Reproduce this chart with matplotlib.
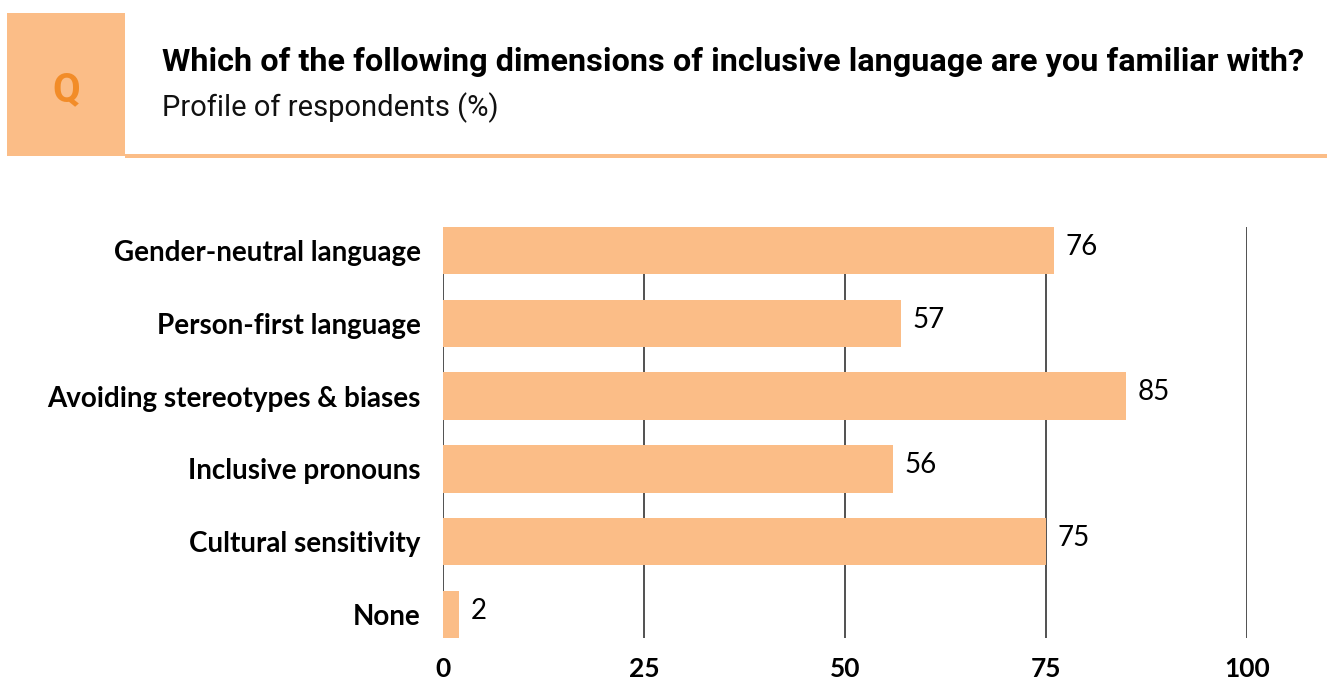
import matplotlib
matplotlib.use("Agg")
import matplotlib.pyplot as plt
from matplotlib.patches import Rectangle

# --- dane ---
categories = ['Gender-neutral language', 'Person-first language', 'Avoiding stereotypes & biases',
              'Inclusive pronouns', 'Cultural sensitivity', 'None']
values = [76, 57, 85, 56, 75, 2]
x_ticks = [0, 25, 50, 75, 100]

title = 'Which of the following dimensions of inclusive language are you familiar with?'
subtitle = 'Profile of respondents (%)'

BAR_COLOR = '#FBBD87'
Q_COLOR = '#F28C28'
LABEL_FONT = 'Lato'
HEAD_FONT = 'Roboto'
BAR_H = 0.65

W, H = 1333, 679
fig = plt.figure(figsize=(W / 100, H / 100), dpi=100)

# --- naglowek ---
fig.patches.append(Rectangle((7 / W, 1 - 156 / H), 118 / W, 143 / H, transform=fig.transFigure,
                             facecolor=BAR_COLOR, edgecolor='none'))
fig.patches.append(Rectangle((125 / W, 1 - 158 / H), 1202 / W, 4 / H, transform=fig.transFigure,
                             facecolor=BAR_COLOR, edgecolor='none'))
fig.text(66 / W, 1 - 90 / H, 'Q', color=Q_COLOR, fontsize=29, fontweight='bold', family=HEAD_FONT,
         ha='center', va='center')
fig.text(162 / W, 1 - 62 / H, title, fontsize=23.3, fontweight='bold', family=HEAD_FONT,
         ha='left', va='center', color='black')
fig.text(162 / W, 1 - 108 / H, subtitle, fontsize=21, fontweight='normal', family=HEAD_FONT,
         ha='left', va='center', color='#111111')

# --- wykres ---
ax = fig.add_axes([443 / W, 1 - 638 / H, (1247 - 443) / W, (638 - 227) / H])
pos = list(range(len(categories)))
ax.barh(pos, values, height=BAR_H, color=BAR_COLOR, zorder=3)
ax.set_ylim(len(categories) - 1 + BAR_H / 2, -BAR_H / 2)
ax.set_xlim(0, 100)
ax.set_xticks(x_ticks)
ax.set_xticklabels([str(t) for t in x_ticks], fontsize=19, fontweight='bold', family=LABEL_FONT)
ax.set_yticks(pos)
ax.set_yticklabels(categories, fontsize=20, fontweight='bold', family=LABEL_FONT)
ax.tick_params(axis='both', length=0)
ax.tick_params(axis='y', pad=16)
ax.tick_params(axis='x', pad=14)
for s in ax.spines.values():
    s.set_visible(False)
ax.xaxis.grid(True, color='#333333', linewidth=1.2, zorder=0)
ax.set_axisbelow(True)

for p, v in zip(pos, values):
    ax.text(v + 1.4, p - 0.05, str(v), va='center', ha='left', fontsize=20, family=LABEL_FONT)

fig.savefig('out.png', dpi=100)
